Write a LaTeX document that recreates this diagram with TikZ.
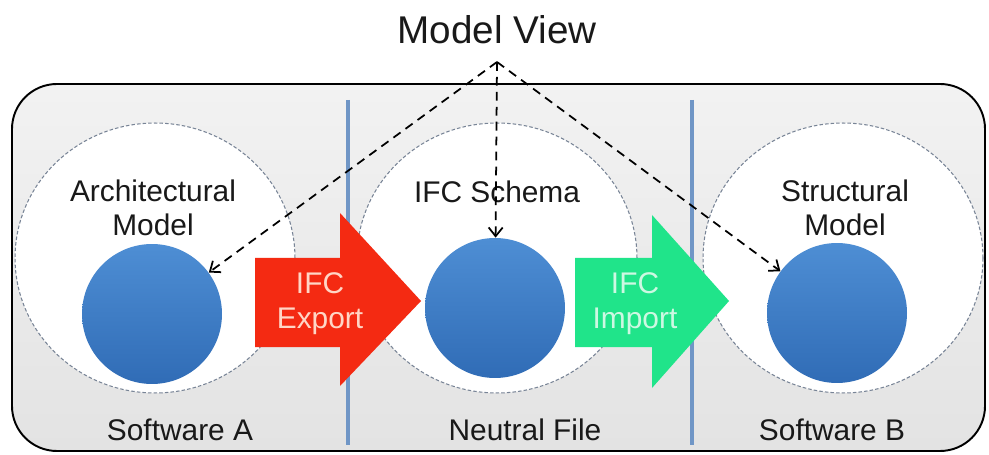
\documentclass[tikz,border=0pt]{standalone}
\usepackage{fontspec}
\setmainfont{Liberation Sans}
\usetikzlibrary{arrows.meta, positioning, shapes.geometric}

\definecolor{ballTop}{RGB}{78,142,212}
\definecolor{ballBot}{RGB}{48,108,182}
\definecolor{divider}{RGB}{112,150,198}
\definecolor{zoneLine}{RGB}{120,132,150}
\definecolor{exportRed}{RGB}{244,42,18}
\definecolor{importGreen}{RGB}{32,228,138}
\definecolor{exportText}{RGB}{255,214,198}
\definecolor{importText}{RGB}{205,248,226}

\tikzset{
  outerbox/.style={draw=black, line width=1.1pt, rounded corners=0.9cm,
    top color=gray!10, bottom color=gray!22},
  zone/.style={ellipse, draw=zoneLine, dash pattern=on 2pt off 1.2pt, line width=0.6pt,
    fill=white, minimum width=5.6cm, minimum height=5.4cm},
  ball/.style={circle, minimum size=2.8cm, top color=ballTop, bottom color=ballBot},
  txt/.style={font=\fontsize{17}{19}\selectfont, align=center, text=black!90},
  viewarrow/.style={-{Straight Barb[length=5pt,width=8pt]}, dash pattern=on 5pt off 3.5pt,
    line width=1pt},
  divline/.style={draw=divider, line width=2.2pt}
}

\begin{document}
\begin{tikzpicture}[x=0.02cm, y=-0.02cm]
  \useasboundingbox (0,0) rectangle (989,455);

  % frame and dividers
  \draw[outerbox] (12,84) rectangle (985,451);
  \draw[divline] (348,100) -- (348,445);
  \draw[divline] (692,100) -- (692,445);

  % zones
  \node[zone] (zoneA) at (155,258) {};
  \node[zone] (zoneN) at (497,258) {};
  \node[zone] (zoneB) at (843,258) {};

  \node[txt] (archTxt) at (153,208) {Architectural\\Model};
  \node[txt] (ifcTxt) at (497,192) {IFC Schema};
  \node[txt] (strucTxt) at (845,208) {Structural\\Model};

  % exchange arrows
  \fill[exportRed] (255,258) -- (340,258) -- (340,213) -- (421,301)
    -- (340,386) -- (340,347) -- (255,347) -- cycle;
  \fill[importGreen] (575,258) -- (652,258) -- (652,215) -- (729,301)
    -- (652,388) -- (652,347) -- (575,347) -- cycle;
  \node[txt, text=exportText, font=\fontsize{17}{20}\selectfont] (expTxt) at (320,304) {IFC\\Export};
  \node[txt, text=importText, font=\fontsize{17}{20}\selectfont] (impTxt) at (635,304) {IFC\\Import};

  % models
  \node[ball] (ballA) at (152,314) {};
  \node[ball] (ballN) at (495,308) {};
  \node[ball] (ballB) at (837,313) {};

  % model view
  \node[txt, font=\fontsize{22}{24}\selectfont] (mvTxt) at (497,30) {Model View};
  \coordinate (apex) at (497,62);
  \draw[viewarrow] (apex) -- (ballA);
  \draw[viewarrow] (apex) -- (ballN);
  \draw[viewarrow] (apex) -- (ballB);

  % software labels
  \node[txt] (swA) at (180,430) {Software A};
  \node[txt] (nfTxt) at (525,430) {Neutral File};
  \node[txt] (swB) at (832,430) {Software B};
\end{tikzpicture}
\end{document}
